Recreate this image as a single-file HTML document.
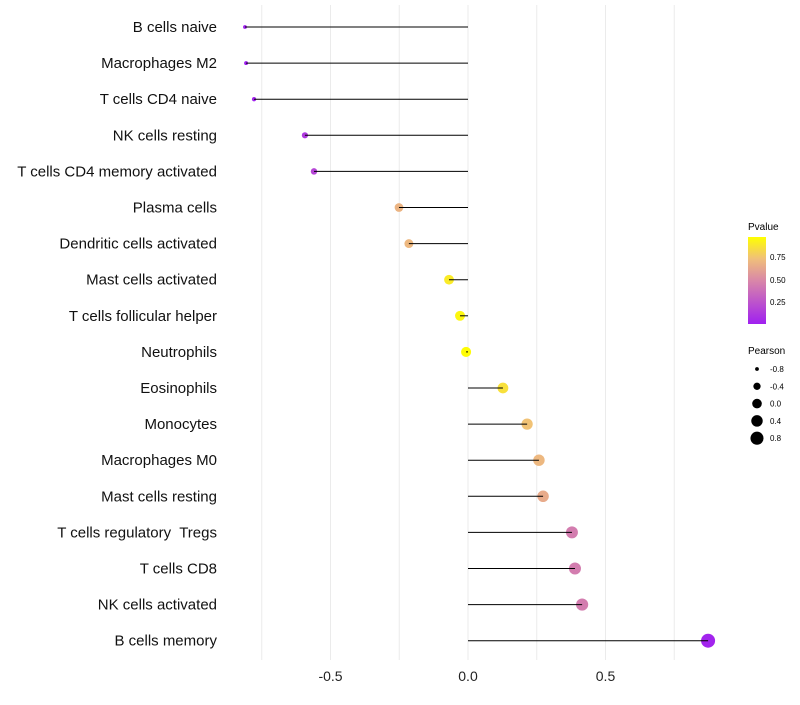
<!DOCTYPE html>
<html><head><meta charset="utf-8"><style>
body{margin:0;background:#fff;font-family:"Liberation Sans",sans-serif}
text{white-space:pre}
</style></head><body>
<svg id="c" width="800" height="700" xmlns="http://www.w3.org/2000/svg">
<defs><linearGradient id="g" x1="0" y1="1" x2="0" y2="0">
<stop offset="0" stop-color="#a020f0"/><stop offset="0.5" stop-color="#d987a8"/><stop offset="0.75" stop-color="#f0bf7a"/><stop offset="1" stop-color="#ffff00"/></linearGradient></defs>
<g id="grid"></g><g id="dots"></g><g id="marks"></g><g id="labels"></g>
<g>
<text x="748" y="230" font-size="10">Pvalue</text>
<rect x="748" y="237" width="18" height="87" fill="url(#g)"/>
<text x="770" y="260" font-size="8">0.75</text>
<text x="770" y="283" font-size="8">0.50</text>
<text x="770" y="305" font-size="8">0.25</text>
</g>
<g id="sizeleg">
<text x="748" y="354" font-size="10">Pearson</text>
</g>
</svg>
<script>
const categories=["B cells naive","Macrophages M2","T cells CD4 naive","NK cells resting","T cells CD4 memory activated","Plasma cells","Dendritic cells activated","Mast cells activated","T cells follicular helper","Neutrophils","Eosinophils","Monocytes","Macrophages M0","Mast cells resting","T cells regulatory  Tregs","T cells CD8","NK cells activated","B cells memory"];
const pearson=[-0.811,-0.807,-0.778,-0.593,-0.56,-0.251,-0.215,-0.069,-0.029,-0.007,0.127,0.215,0.258,0.273,0.378,0.389,0.415,0.873];
const pvalues=[0.0,0.0,0.02,0.12,0.18,0.7,0.72,0.92,0.97,0.99,0.88,0.76,0.72,0.66,0.45,0.45,0.45,0.02];
const xticks=[-0.5,0,0.5];
const legendSizes=[-0.8,-0.4,0,0.4,0.8];
const NS="http://www.w3.org/2000/svg";
const xs=v=>468+v*275;
const ys=i=>27+i*36.1;
const rs=v=>Math.sqrt(Math.max(1,25.6+27*v));
function col(p){const st=[[0,[160,32,240]],[0.5,[217,135,168]],[0.75,[240,191,122]],[1,[255,255,0]]];
for(let i=1;i<st.length;i++){if(p<=st[i][0]){const t=(p-st[i-1][0])/(st[i][0]-st[i-1][0]);const a=st[i-1][1],b=st[i][1];return `rgb(${a.map((c,k)=>Math.round(c+(b[k]-c)*t)).join(',')})`;}}return 'rgb(255,255,0)';}
function mk(tag,at,parent){const e=document.createElementNS(NS,tag);for(const k in at)e.setAttribute(k,at[k]);parent.appendChild(e);return e;}
const grid=document.getElementById('grid'),marks=document.getElementById('marks'),dots=document.getElementById('dots'),labels=document.getElementById('labels');
[-0.75,-0.5,-0.25,0,0.25,0.5,0.75].forEach(v=>{const l=mk('line',{x1:xs(v),x2:xs(v),y1:5,y2:660,stroke:'#ebebeb','stroke-width':1},grid);

});
xticks.forEach(v=>{const t=mk('text',{x:xs(v),y:681,'text-anchor':'middle','font-size':14,fill:'#222'},labels);t.textContent=v.toFixed(1);

});
categories.forEach((c,i)=>{const y=ys(i);
const d=mk('circle',{cx:xs(pearson[i]),cy:y,r:rs(pearson[i]),fill:col(pvalues[i])},dots);


const l=mk('line',{x1:xs(0),x2:xs(pearson[i]),y1:y,y2:y,stroke:'#000','stroke-width':1},marks);


const t=mk('text',{x:217,y:y+5,'text-anchor':'end','font-size':15,fill:'#111'},labels);t.textContent=c;

});
const sl=document.getElementById('sizeleg');
legendSizes.forEach((v,i)=>{const y=369+i*17.3;
const c=mk('circle',{cx:757,cy:y,r:rs(v)*0.95,fill:'#000'},sl);


const t=mk('text',{x:770,y:y+3,'font-size':8},sl);t.textContent=v.toFixed(1);

});
</script>
</body></html>
